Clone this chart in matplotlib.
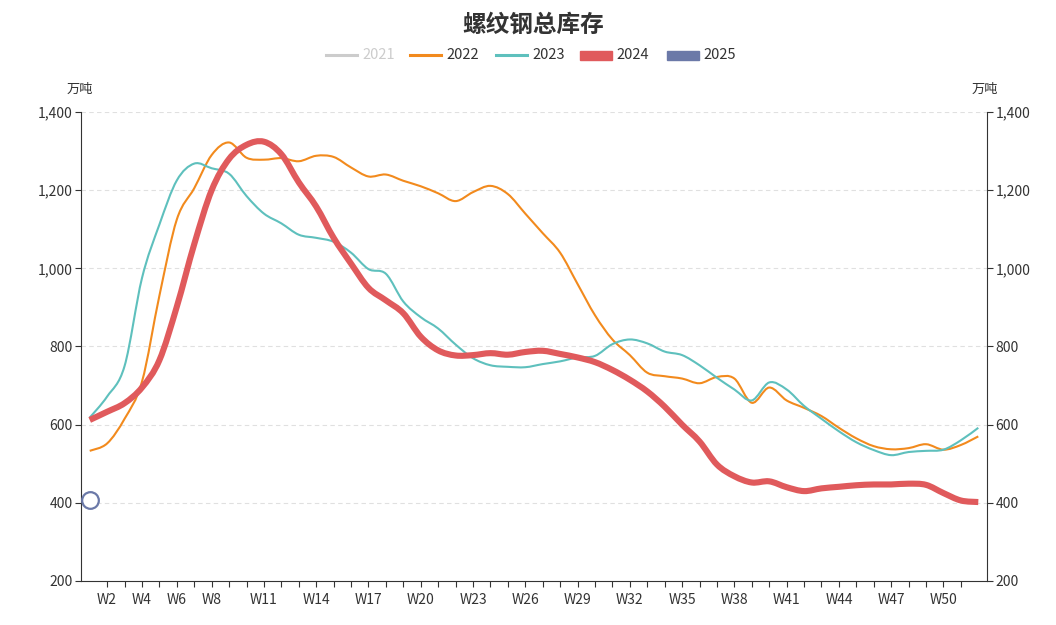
import matplotlib

matplotlib.use("Agg")

import matplotlib.pyplot as plt
import numpy as np
from matplotlib.patches import PathPatch, Rectangle
from matplotlib.lines import Line2D
from matplotlib.path import Path
from matplotlib.ticker import FuncFormatter

weeks = [f"W{i}" for i in range(1, 53)]
shown_labels = ["W2", "W4", "W6", "W8", "W11", "W14", "W17", "W20", "W23", "W26",
                "W29", "W32", "W35", "W38", "W41", "W44", "W47", "W50"]

inv_2022 = [533, 552, 615, 710, 930, 1125, 1205, 1290, 1322, 1283, 1278, 1282, 1274,
            1288, 1285, 1258, 1235, 1240, 1224, 1210, 1192, 1172, 1195, 1211, 1190, 1140,
            1090, 1040, 960, 880, 818, 778, 733, 724, 718, 706, 722, 718, 656, 695,
            662, 643, 622, 592, 565, 545, 537, 540, 550, 536, 548, 570]
inv_2023 = [618, 672, 750, 975, 1112, 1225, 1268, 1256, 1242, 1185, 1140, 1115, 1086,
            1078, 1068, 1040, 998, 986, 915, 875, 846, 805, 770, 752, 748, 747,
            755, 762, 772, 776, 806, 818, 808, 787, 778, 752, 720, 690, 662, 708,
            690, 648, 615, 583, 555, 535, 522, 530, 533, 536, 560, 592]
inv_2024 = [612, 633, 655, 695, 765, 902, 1062, 1200, 1280, 1316, 1324, 1292, 1220,
            1158, 1078, 1012, 950, 918, 885, 825, 790, 777, 778, 783, 779, 786,
            789, 781, 772, 760, 740, 715, 685, 646, 600, 557, 498, 468, 452, 455,
            440, 430, 437, 441, 445, 447, 447, 449, 446, 425, 406, 402]
inv_2025 = [408]

COLORS = {"2021": "#cccccc", "2022": "#f28a1d", "2023": "#5ec0bd",
          "2024": "#e05a5c", "2025": "#6b79a8"}

plt.rcParams["font.family"] = ["Noto Sans CJK SC", "DejaVu Sans"]
TXT = "#333333"


def smooth_path(xs, ys):
    pts = np.column_stack([xs, ys]).astype(float)
    verts = [pts[0]]
    codes = [Path.MOVETO]
    n = len(pts)
    for i in range(n - 1):
        p0 = pts[i - 1] if i > 0 else pts[i]
        p1 = pts[i]
        p2 = pts[i + 1]
        p3 = pts[i + 2] if i + 2 < n else pts[i + 1]
        verts += [p1 + (p2 - p0) / 6.0, p2 - (p3 - p1) / 6.0, p2]
        codes += [Path.CURVE4] * 3
    return Path(verts, codes)


W, H = 1056, 625
fig = plt.figure(figsize=(W / 100, H / 100), dpi=100)
ax = fig.add_axes([81 / W, 44 / H, 906 / W, 469 / H])

x = np.arange(len(weeks))
for year, vals, lw in [("2022", inv_2022, 1.5), ("2023", inv_2023, 1.5), ("2024", inv_2024, 4.4)]:
    patch = PathPatch(smooth_path(x[:len(vals)], vals), fill=False, edgecolor=COLORS[year],
                      lw=lw, capstyle="butt", joinstyle="round", zorder=3)
    ax.add_patch(patch)
ax.plot(x[:len(inv_2025)], inv_2025, linestyle="none", marker="o", markersize=12,
        markerfacecolor="white", markeredgecolor=COLORS["2025"], markeredgewidth=1.6, zorder=4)

ax.set_xlim(-0.5, len(weeks) - 0.5)
ax.set_ylim(200, 1400)
ax.set_yticks(np.arange(200, 1401, 200))
ax.yaxis.set_major_formatter(FuncFormatter(lambda v, _: f"{v:,.0f}"))
for v in range(400, 1401, 200):
    ax.axhline(v, color="#e0e0e0", lw=0.8, dashes=(4, 3), zorder=1)

tick_pos = x[1:51]
ax.set_xticks(tick_pos)
ax.set_xticklabels([w if w in shown_labels else "" for w in weeks[1:51]])

for side in ["left", "right", "bottom"]:
    ax.spines[side].set_color(TXT)
    ax.spines[side].set_linewidth(0.8)
ax.spines["top"].set_visible(False)
ax.tick_params(axis="y", left=True, right=True, labelleft=True, labelright=True,
               direction="out", length=4.5, width=0.8, color=TXT, labelcolor=TXT,
               labelsize=10, pad=1.5)
ax.tick_params(axis="x", direction="out", length=4.5, width=0.8, color=TXT,
               labelcolor=TXT, labelsize=10, pad=4.5)

fig.text(533 / W, 1 - 25 / H, "螺纹钢总库存", ha="center", va="center",
         fontsize=17, fontweight="bold", color=TXT)
fig.text(80 / W, 1 - 89 / H, "万吨", ha="center", va="center", fontsize=9.5, color=TXT)
fig.text(985 / W, 1 - 89 / H, "万吨", ha="center", va="center", fontsize=9.5, color=TXT)

# legend
ly = 1 - 55 / H
legend_items = [("2021", 326, "line"), ("2022", 410, "line"), ("2023", 496, "line"),
                ("2024", 580, "rect"), ("2025", 667, "rect")]
for year, x0, kind in legend_items:
    c = COLORS[year]
    if kind == "line":
        fig.add_artist(Line2D([x0 / W, (x0 + 31) / W], [ly, ly], color=c, lw=2.2,
                              transform=fig.transFigure))
    else:
        fig.add_artist(Rectangle((x0 / W, ly - 4.5 / H), 32 / W, 9 / H, color=c,
                                 transform=fig.transFigure))
    fig.text((x0 + 36) / W, ly, year, ha="left", va="center", fontsize=10.5,
             color="#cccccc" if year == "2021" else TXT)

fig.savefig("out.png", dpi=100)
